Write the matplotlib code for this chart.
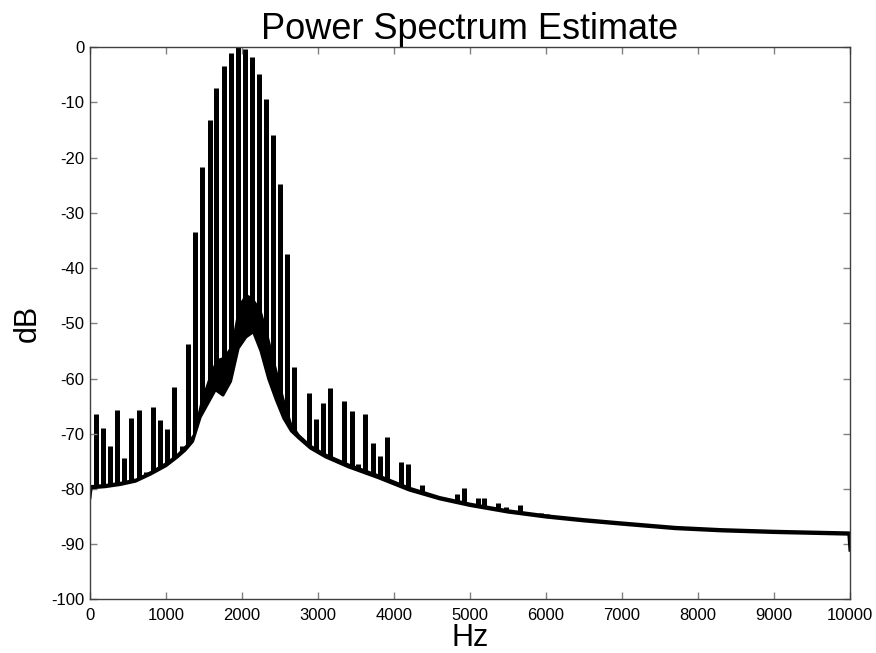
from matplotlib import pyplot as plt

plt.rcParams['font.family'] = ['Liberation Sans', 'DejaVu Sans']
plt.rcParams['axes.unicode_minus'] = False

# noise floor: lower and upper edge of the thick trace
floor_f = [0, 15, 200, 400, 600, 800, 1000, 1150, 1250, 1350, 1450, 1550,
           1650, 1750, 1850, 1950, 2050, 2150, 2250, 2350, 2450, 2550, 2650,
           2750, 2900, 3100, 3400, 3800, 4200, 4600, 5000, 5500, 6000, 6500,
           7000, 7700, 8300, 9000, 9985, 10000]
floor_lo = [-81.6, -79.8, -79.6, -79.2, -78.6, -77.3, -75.8, -74.2, -73.0,
            -71.4, -67.0, -64.5, -62.0, -63.0, -60.5, -54.5, -52.5, -51.5,
            -55.0, -60.0, -63.8, -67.2, -69.5, -70.8, -72.6, -74.2, -76.0,
            -78.0, -80.2, -81.8, -83.0, -84.2, -85.1, -85.8, -86.4, -87.2,
            -87.6, -87.9, -88.2, -91.1]
floor_hi = [-79.2, -79.2, -79.0, -78.6, -78.0, -76.6, -75.0, -73.4, -72.0,
            -70.0, -64.0, -60.0, -56.5, -56.0, -54.0, -46.5, -44.5, -45.5,
            -47.5, -52.5, -58.0, -63.5, -68.0, -70.0, -71.9, -73.5, -75.3,
            -77.3, -79.5, -81.2, -82.4, -83.6, -84.5, -85.2, -85.8, -86.6,
            -87.0, -87.3, -87.6, -87.6]

# harmonic spikes
spike_f = [79, 175, 263, 359, 451, 543, 641, 737, 829, 925, 1017, 1109, 1207,
           1293, 1382, 1478, 1579, 1662, 1759, 1855, 1943, 2039, 2127, 2224,
           2320, 2408, 2500, 2599, 2684, 2878, 2974, 3062, 3158, 3250, 3346,
           3443, 3530, 3622, 3720, 3812, 3904, 4088, 4180, 4365, 4455, 4825,
           4920, 5100, 5190, 5375, 5470, 5660, 5930, 6020]
spike_db = [-66.5, -69.0, -72.3, -65.7, -74.4, -67.1, -65.7, -77.0, -65.2,
            -67.6, -69.2, -61.5, -72.3, -53.7, -33.5, -21.6, -13.2, -7.4,
            -3.4, -1.0, 0.0, -0.4, -1.8, -4.9, -9.4, -15.8, -24.7, -37.4,
            -57.9, -62.6, -67.4, -64.4, -61.7, -75.1, -64.1, -65.8, -75.4,
            -66.5, -71.6, -74.1, -70.6, -75.2, -75.5, -79.3, -81.0, -81.0,
            -79.8, -81.6, -81.7, -82.6, -83.3, -82.9, -84.4, -84.6]

fig = plt.figure(figsize=(8.76, 6.53), dpi=100)
ax = fig.add_axes([0.1027, 0.0822, 0.8676, 0.8454])

ax.vlines(spike_f, -100, spike_db, color='black', lw=3.6, zorder=1)
# hide the part of the spikes below the floor
ax.fill_between(floor_f, -100, floor_lo, color='white', lw=0, zorder=1.5)
ax.fill_between(floor_f, floor_lo, floor_hi, color='black', lw=0, zorder=2)
ax.plot(floor_f, floor_lo, color='black', lw=2.2, zorder=2)

ax.set_xlim(0, 10000)
ax.set_ylim(-100, 0)
ax.set_xticks(range(0, 10001, 1000))
ax.set_yticks(range(-100, 1, 10))
ax.tick_params(direction='in', length=5, width=1, color='#808080',
               top=True, right=True, labelsize=12)
ax.tick_params(axis='x', pad=6)
ax.tick_params(axis='y', pad=4)
for s in ax.spines.values():
    s.set_color('#404040')
    s.set_linewidth(1)
    s.set_zorder(5)

ax.set_title('Power Spectrum Estimate', fontsize=26, pad=6)
ax.set_xlabel('Hz', fontsize=22, labelpad=0)
ax.set_ylabel('dB', fontsize=22, labelpad=6)

plt.savefig('out.png')
